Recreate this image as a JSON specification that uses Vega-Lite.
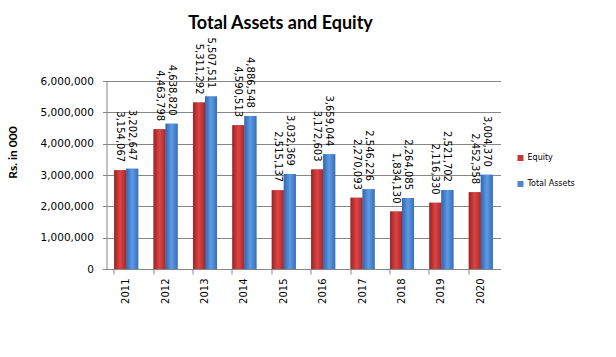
{
  "$schema": "https://vega.github.io/schema/vega-lite/v6.json",
  "width": 394,
  "height": 188,
  "autosize": "none",
  "padding": {"left": 106.5, "top": 81, "right": 115.5, "bottom": 88},
  "background": "white",
  "title": {
    "text": "Total Assets and Equity",
    "font": "Lato",
    "fontSize": 18,
    "fontWeight": "bold",
    "color": "black",
    "anchor": "middle",
    "frame": "group",
    "dx": -23,
    "offset": 5
  },
  "config": {
    "view": {"stroke": null},
    "axis": {"labelColor": "black", "titleColor": "black"}
  },
  "data": {
    "values": [
      {"year": "2011", "series": "Equity", "value": 3154067},
      {"year": "2011", "series": "Total Assets", "value": 3202647},
      {"year": "2012", "series": "Equity", "value": 4463798},
      {"year": "2012", "series": "Total Assets", "value": 4638820},
      {"year": "2013", "series": "Equity", "value": 5311292},
      {"year": "2013", "series": "Total Assets", "value": 5507511},
      {"year": "2014", "series": "Equity", "value": 4590513},
      {"year": "2014", "series": "Total Assets", "value": 4886548},
      {"year": "2015", "series": "Equity", "value": 2515137},
      {"year": "2015", "series": "Total Assets", "value": 3032369},
      {"year": "2016", "series": "Equity", "value": 3172603},
      {"year": "2016", "series": "Total Assets", "value": 3659044},
      {"year": "2017", "series": "Equity", "value": 2270093},
      {"year": "2017", "series": "Total Assets", "value": 2546226},
      {"year": "2018", "series": "Equity", "value": 1834130},
      {"year": "2018", "series": "Total Assets", "value": 2264085},
      {"year": "2019", "series": "Equity", "value": 2116330},
      {"year": "2019", "series": "Total Assets", "value": 2521702},
      {"year": "2020", "series": "Equity", "value": 2452358},
      {"year": "2020", "series": "Total Assets", "value": 3004370}
    ]
  },
  "encoding": {
    "x": {
      "field": "year",
      "type": "nominal",
      "scale": {"paddingInner": 0.39, "paddingOuter": 0.195},
      "axis": {
        "title": null,
        "labelAngle": -90,
        "labelAlign": "right",
        "labelBaseline": "middle",
        "labelFont": "DejaVu Sans",
        "labelFontSize": 10,
        "labelPadding": 4,
        "bandPosition": 0,
        "tickSize": 5,
        "tickColor": "#868686",
        "domainColor": "#868686",
        "grid": false
      }
    },
    "xOffset": {
      "field": "series",
      "type": "nominal",
      "scale": {"domain": ["Equity", "Total Assets"], "paddingInner": 0, "paddingOuter": 0}
    },
    "y": {
      "field": "value",
      "type": "quantitative",
      "scale": {"domain": [0, 6000000], "nice": false},
      "axis": {
        "title": "Rs. in 000",
        "titleFont": "Lato",
        "titleFontSize": 12,
        "titleFontWeight": "bold",
        "titleX": -87,
        "titleY": 71,
        "values": [0, 1000000, 2000000, 3000000, 4000000, 5000000, 6000000],
        "format": ",d",
        "labelFont": "DejaVu Sans",
        "labelFontSize": 10.5,
        "labelPadding": 9,
        "tickSize": 4,
        "tickColor": "#868686",
        "domainColor": "#868686",
        "gridColor": "#868686",
        "gridOpacity": 1
      }
    }
  },
  "layer": [
    {
      "mark": {"type": "bar"},
      "encoding": {
        "color": {
          "field": "series",
          "type": "nominal",
          "scale": {"domain": ["Equity", "Total Assets"], "range": ["#C63838", "#4A86D0"]},
          "legend": {
            "title": null,
            "orient": "none",
            "legendX": 410,
            "legendY": 73,
            "symbolType": "square",
            "symbolSize": 36,
            "symbolStrokeWidth": 0,
            "labelFont": "DejaVu Sans",
            "labelFontSize": 8,
            "labelColor": "black",
            "rowPadding": 18,
            "labelOffset": 3
          }
        }
      }
    },
    {
      "transform": [{"filter": "datum.series === 'Equity'"}],
      "mark": {
        "type": "bar",
        "color": {"gradient": "linear", "x1": 0, "y1": 0, "x2": 1, "y2": 0, "stops": [{"offset": 0, "color": "#9A2424"}, {"offset": 0.5, "color": "#DE4444"}, {"offset": 1, "color": "#A42A2A"}]}
      }
    },
    {
      "transform": [{"filter": "datum.series === 'Total Assets'"}],
      "mark": {
        "type": "bar",
        "color": {"gradient": "linear", "x1": 0, "y1": 0, "x2": 1, "y2": 0, "stops": [{"offset": 0, "color": "#3465AE"}, {"offset": 0.5, "color": "#5C9BE4"}, {"offset": 1, "color": "#3A6EB8"}]}
      }
    },
    {
      "mark": {
        "type": "text",
        "angle": 90,
        "align": "right",
        "baseline": "middle",
        "dx": -8,
        "font": "DejaVu Sans",
        "fontSize": 10,
        "color": "black"
      },
      "encoding": {
        "text": {"field": "value", "type": "quantitative", "format": ",d"}
      }
    }
  ]
}
